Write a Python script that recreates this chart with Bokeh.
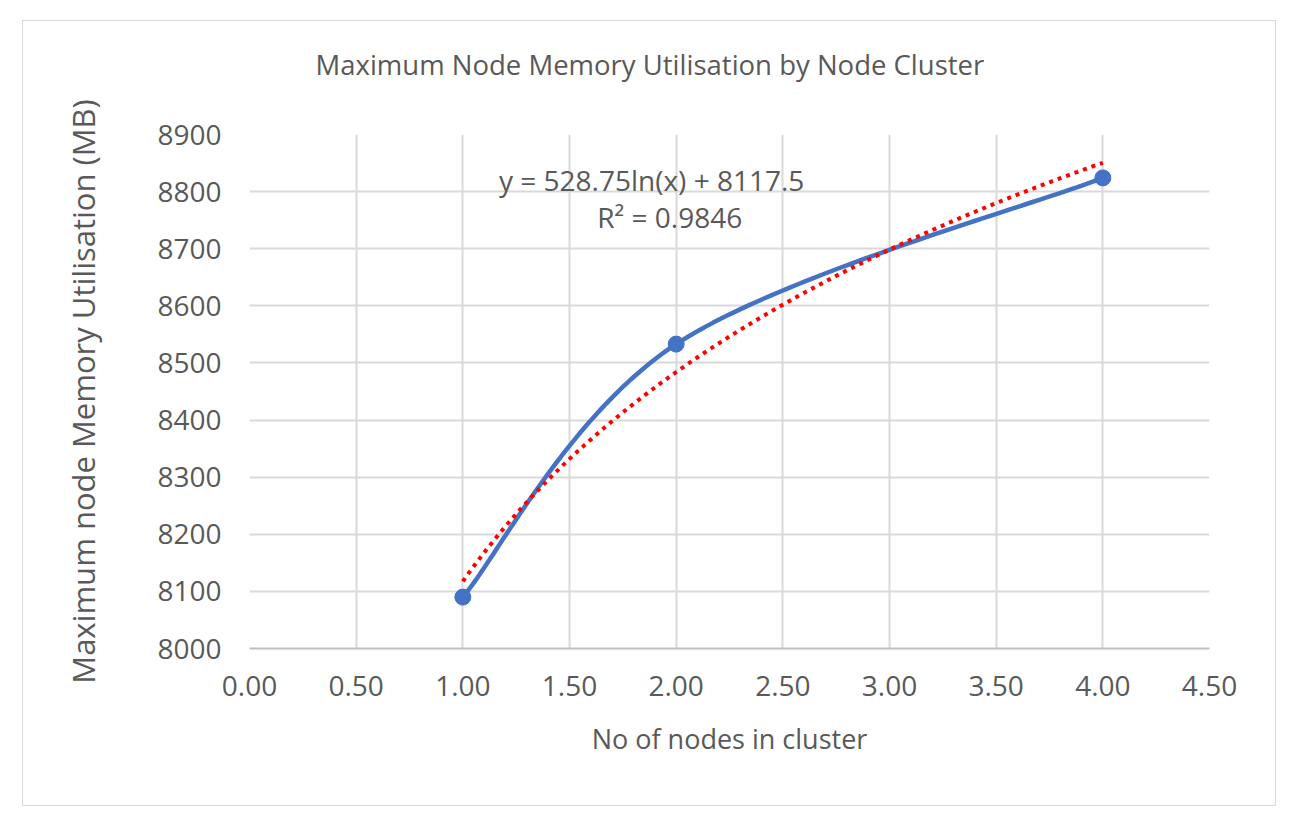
import numpy as np
from bokeh.plotting import figure
from bokeh.models import (FixedTicker, NumeralTickFormatter, Label, Range1d, Title)
from bokeh.embed import file_html
from bokeh.resources import INLINE

# ---- data ----
nodes = [1, 2, 4]
max_mem = [8090, 8533, 8824]
x_ticks = [0, 0.5, 1, 1.5, 2, 2.5, 3, 3.5, 4, 4.5]
y_ticks = [8000, 8100, 8200, 8300, 8400, 8500, 8600, 8700, 8800, 8900]
trend_a = 528.75   # coefficient shown on the chart
trend_b = 8117.5
title_text = "Maximum Node Memory Utilisation by Node Cluster"
eq_text = "y = 528.75ln(x) + 8117.5"
r2_text = "R² = 0.9846"

FONT = "Open Sans"
FS = "28px"
GREY = "#595959"
GRID = "#d9d9d9"
BLUE = "#4472C4"


def catmull_rom(xs, ys, n=60):
    pts = np.column_stack([xs, ys]).astype(float)
    P = np.vstack([pts[0], pts, pts[-1]])
    out = []
    t = np.linspace(0, 1, n)[:, None]
    for i in range(1, len(P) - 2):
        p0, p1, p2, p3 = P[i - 1], P[i], P[i + 1], P[i + 2]
        seg = 0.5 * (2 * p1 + (-p0 + p2) * t + (2 * p0 - 5 * p1 + 4 * p2 - p3) * t ** 2
                     + (-p0 + 3 * p1 - 3 * p2 + p3) * t ** 3)
        out.append(seg if i == 1 else seg[1:])
    s = np.vstack(out)
    return s[:, 0], s[:, 1]


p = figure(width=1254, height=786, output_backend="svg", toolbar_location=None,
           x_range=Range1d(0, 4.5), y_range=Range1d(8000, 8900),
           min_border_left=226, min_border_right=68, min_border_top=113, min_border_bottom=159)
p.margin = (20, 0, 0, 22)
p.styles = {"border": "1px solid #d9d9d9"}
p.background_fill_color = "white"
p.border_fill_color = "white"
p.outline_line_color = None

p.xaxis.ticker = FixedTicker(ticks=x_ticks)
p.yaxis.ticker = FixedTicker(ticks=y_ticks)
p.xaxis.formatter = NumeralTickFormatter(format="0.00")
p.xgrid.ticker = FixedTicker(ticks=x_ticks)
p.ygrid.ticker = FixedTicker(ticks=y_ticks)
for g in (p.xgrid, p.ygrid):
    g.grid_line_color = GRID
    g.grid_line_width = 2
for ax in (p.xaxis, p.yaxis):
    ax.major_tick_line_color = None
    ax.minor_tick_line_color = None
    ax.major_label_text_font = FONT
    ax.major_label_text_font_size = FS
    ax.major_label_text_color = GREY
    ax.axis_label_text_font = FONT
    ax.axis_label_text_font_size = FS
    ax.axis_label_text_color = GREY
    ax.axis_label_text_font_style = "normal"
p.yaxis.axis_label_text_font_size = "31px"
p.xaxis.axis_label_text_font_size = "27px"
p.xaxis.axis_line_color = "#bfbfbf"
p.xaxis.axis_line_width = 2
p.yaxis.axis_line_color = None
p.xaxis.axis_label = "No of nodes in cluster"
p.yaxis.axis_label = "Maximum node Memory Utilisation (MB)"
p.xaxis.major_label_standoff = 21
p.yaxis.major_label_standoff = 22
p.xaxis.axis_label_standoff = 21
p.yaxis.axis_label_standoff = 50

# chart title, centred over the whole chart area (blank second line lifts it)
p.add_layout(Title(text=title_text + "\n ", align="left", offset=66, standoff=29,
                   text_font=FONT, text_font_size="27.5px", text_color=GREY,
                   text_font_style="normal"), "above")

# smoothed series
sx, sy = catmull_rom(nodes, max_mem)
p.line(sx, sy, line_color=BLUE, line_width=4.5)
p.scatter(nodes, max_mem, size=16, fill_color=BLUE, line_color=BLUE)

# logarithmic trendline
tx = np.linspace(min(nodes), max(nodes), 200)
ty = trend_a * np.log(tx) + trend_b
p.line(tx, ty, line_color="#ff0000", line_width=4, line_dash="4 5")

p.add_layout(Label(x=1.885, y=8820, text=eq_text, text_align="center", text_baseline="middle",
                   text_font=FONT, text_font_size=FS, text_color=GREY))
p.add_layout(Label(x=1.97, y=8756, text=r2_text, text_align="center", text_baseline="middle",
                   text_font=FONT, text_font_size=FS, text_color=GREY))

open("out.html", "w").write(file_html(p, INLINE))
